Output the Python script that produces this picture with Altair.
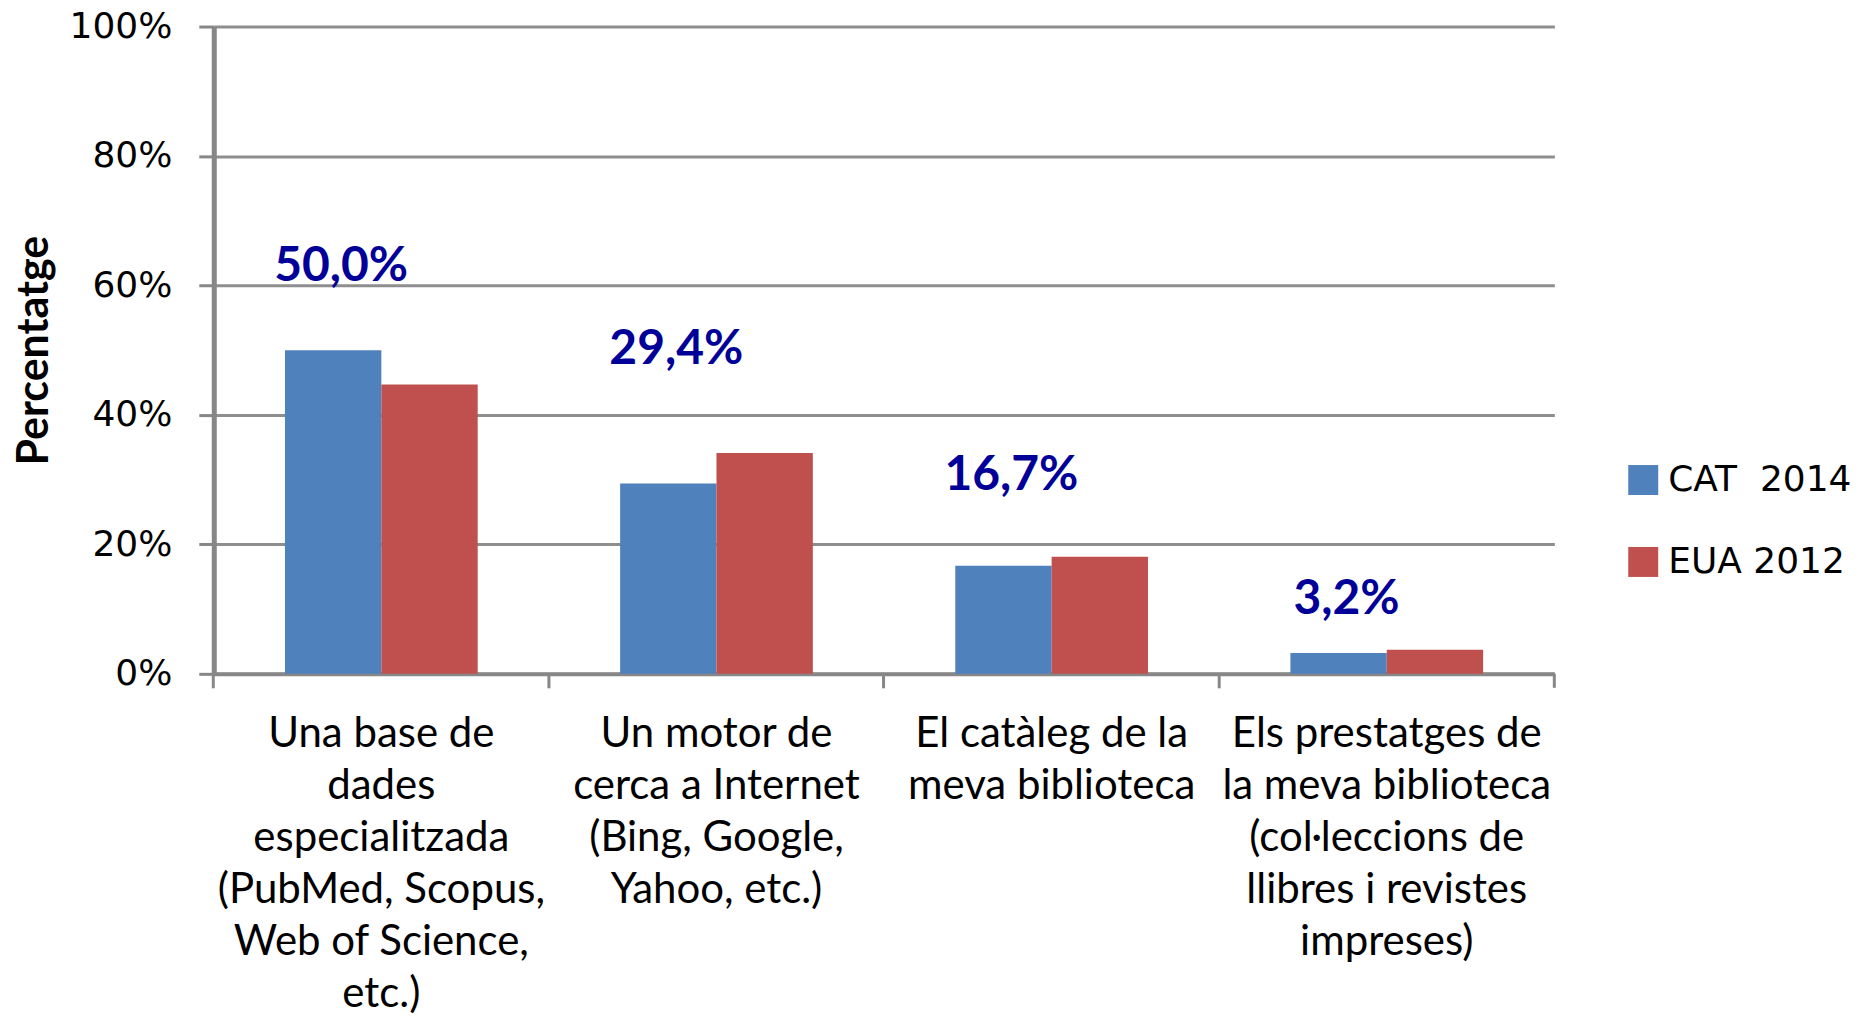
import altair as alt
import pandas as pd

# ---- data ----
categories = [
    "Una base de|dades|especialitzada|(PubMed, Scopus,|Web of Science,|etc.)",
    "Un motor de|cerca a Internet|(Bing, Google,|Yahoo, etc.)",
    "El catàleg de la|meva biblioteca",
    "Els prestatges de|la meva biblioteca|(col·leccions de|llibres i revistes|impreses)",
]
series = ["CAT\u00a0 2014", "EUA 2012"]
cat_2014 = [50.0, 29.4, 16.7, 3.2]
eua_2012 = [44.7, 34.1, 18.1, 3.7]
label_text = ["50,0%", "29,4%", "16,7%", "3,2%"]
label_anchor = [62.9, 50.1, 30.6, 11.4]   # where the data labels sit, in % units
y_ticks = [0, 20, 40, 60, 80, 100]
colors = ["#4F81BD", "#C0504D"]

rows = []
for c, a, b in zip(categories, cat_2014, eua_2012):
    rows.append({"cat": c, "series": series[0], "value": a})
    rows.append({"cat": c, "series": series[1], "value": b})
bar_df = pd.DataFrame(rows)
lab_df = pd.DataFrame({"cat": categories, "series": series[0],
                       "ypos": label_anchor, "label": label_text})

W, H = 1342, 648
GRAY = "#878787"
PAD_IN, PAD_OUT = 0.425, 0.2125
# put the category ticks on the boundaries between groups
tick_band_pos = -PAD_OUT / (1 - PAD_IN)

x_scale = alt.Scale(domain=categories, paddingInner=PAD_IN, paddingOuter=PAD_OUT)
xo_scale = alt.Scale(domain=series, paddingInner=0, paddingOuter=0)
y_scale = alt.Scale(domain=[0, 100], nice=False)

x_axis = alt.Axis(title=None, labelExpr="split(datum.label, '|')",
                  labelAngle=0, labelFont="Lato", labelFontSize=42,
                  labelLineHeight=52, labelColor="black",
                  labelPadding=26, labelLimit=500, labelOverlap=False,
                  labelBaseline="top", bandPosition=tick_band_pos, tickSize=14,
                  tickWidth=3, tickColor=GRAY, domainColor=GRAY,
                  domainWidth=4, grid=False)
y_axis = alt.Axis(title="Percentatge", values=y_ticks,
                  labelExpr="datum.value + '%'",
                  labelFont="DejaVu Sans", labelFontSize=36,
                  labelColor="black", labelPadding=27,
                  tickSize=15, tickWidth=3, tickColor=GRAY,
                  domainColor=GRAY, domainWidth=5,
                  gridColor="#8e8e8e", gridWidth=3,
                  titleFont="Lato", titleFontSize=43,
                  titleFontWeight="bold", titleColor="black",
                  titleAngle=270, titleX=-179, titleY=H / 2,
                  titleAlign="center", titleBaseline="middle")

bars = alt.Chart(bar_df).mark_bar().encode(
    x=alt.X("cat:N", scale=x_scale, sort=categories, axis=x_axis),
    xOffset=alt.XOffset("series:N", scale=xo_scale, sort=series),
    y=alt.Y("value:Q", scale=y_scale, axis=y_axis),
    color=alt.Color("series:N", scale=alt.Scale(domain=series, range=colors),
                    legend=alt.Legend(title=None, orient="none",
                                      legendX=1413, legendY=436,
                                      symbolType="square", symbolSize=900,
                                      symbolStrokeWidth=0,
                                      labelFont="DejaVu Sans", labelFontSize=36,
                                      labelColor="black", labelOffset=7,
                                      labelLimit=400, rowPadding=46,
                                      direction="vertical")),
)

labels = alt.Chart(lab_df).mark_text(
    font="Lato", fontWeight="bold", fontSize=48, color="#000099",
    dx=8, baseline="middle", align="center"
).encode(
    x=alt.X("cat:N", scale=x_scale, sort=categories, axis=x_axis),
    xOffset=alt.XOffset("series:N", scale=xo_scale),
    y=alt.Y("ypos:Q", scale=y_scale, axis=y_axis),
    text="label:N",
)

end_tick = alt.Chart(pd.DataFrame({"v": [0]})).mark_rule(
    color=GRAY, strokeWidth=3
).encode(x=alt.value(W), y=alt.value(H), y2=alt.value(H + 14))

chart = alt.layer(bars, labels, end_tick).properties(
    width=W, height=H,
    padding={"left": 206, "top": 18, "right": 300, "bottom": 340},
    autosize=alt.AutoSizeParams(type="none"),
    background="white",
).configure_view(stroke=None)

chart.save("out.html", embed_options={"renderer": "svg", "actions": False})
